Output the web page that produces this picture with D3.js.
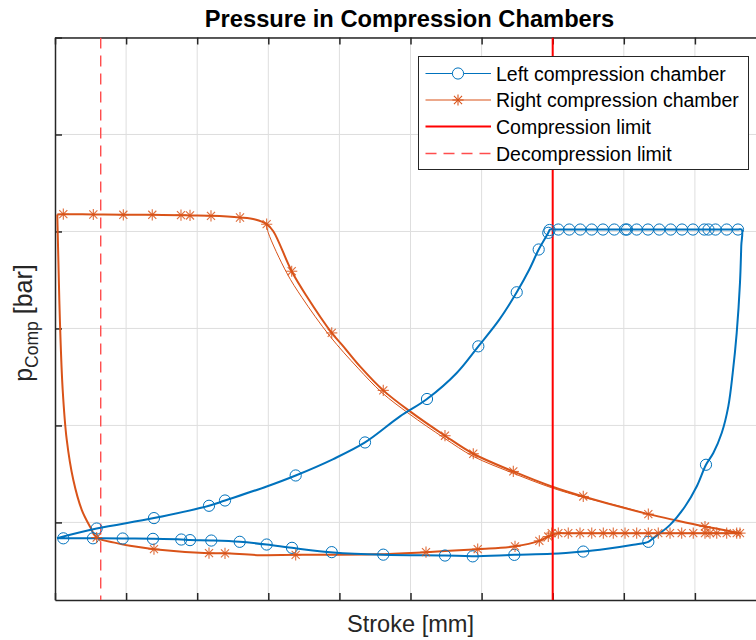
<!DOCTYPE html>
<html>
<head>
<meta charset="utf-8">
<script src="https://cdn.jsdelivr.net/npm/d3@7"></script>
<style>
  html, body { margin: 0; padding: 0; background: #fff; }
  svg { display: block; font-family: "Liberation Sans", Arial, Helvetica, sans-serif; }
</style>
</head>
<body>
<svg id="chart" width="756" height="640"></svg>
<script>
// Axis tick positions (labels are hidden on both axes)
const strokeTicks = [0, 10, 20, 30, 40, 50, 60, 70, 80, 90, 100];   // mm
const pressureTicks = [0, 2, 4, 6, 8, 10];                           // bar

// Valve limits on the stroke axis
const compressionLimit = 70.0;     // mm
const decompressionLimit = 6.43;   // mm

// Left compression chamber: one full stroke cycle [stroke mm, pressure bar]
const leftCycle = [
  [0.28,-0.324],[5.86,-0.126],[13.92,0.089],[21.66,0.343],[23.91,0.452],[29.77,0.741],
  [33.85,0.968],[39.14,1.307],[43.60,1.649],[48.52,2.186],[52.32,2.545],[56.50,3.082],
  [59.54,3.631],[62.49,4.182],[64.94,4.746],[66.71,5.215],[68.03,5.628],[69.38,5.972],
  [69.62,6.040],[70.30,6.040],[80.00,6.040],[90.00,6.040],[96.00,6.040],[96.58,6.040],
  [96.52,5.700],[96.34,4.940],[95.88,3.908],[95.32,3.082],[94.70,2.393],
  [93.77,1.843],[92.59,1.431],[91.56,1.189],[90.25,0.741],[88.61,0.328],[86.50,-0.050],
  [84.15,-0.324],[83.45,-0.400],[81.34,-0.462],[76.65,-0.566],[74.30,-0.601],[69.86,-0.648],
  [64.60,-0.669],[58.75,-0.696],[54.85,-0.683],[46.17,-0.669],[39.14,-0.621],[33.33,-0.524],
  [29.77,-0.456],[25.98,-0.400],[21.98,-0.374],[18.99,-0.365],[17.76,-0.353],[13.78,-0.339],
  [9.52,-0.332],[5.34,-0.328],[1.17,-0.328],[0.28,-0.324]
];
// Samples of the left chamber shown with markers
const leftSamples = [
  [1.17,-0.328],[5.34,-0.328],[5.86,-0.126],[9.52,-0.332],[13.78,-0.339],[13.92,0.089],
  [17.76,-0.353],[18.99,-0.365],[21.66,0.343],[21.98,-0.374],[23.91,0.452],[25.98,-0.400],
  [29.77,-0.456],[33.33,-0.524],[33.85,0.968],[38.92,-0.613],[43.60,1.649],[46.17,-0.665],
  [52.32,2.545],[54.85,-0.683],[58.75,-0.700],[59.54,3.631],[64.60,-0.669],[64.94,4.746],
  [68.03,5.628],[69.38,5.972],[69.55,6.030],[74.30,-0.601],[83.45,-0.400],[91.56,1.189],
  [70.79,6.040],[72.33,6.040],[73.88,6.040],[75.49,6.040],[77.07,6.040],[78.66,6.040],
  [80.21,6.040],[80.45,6.040],[81.81,6.040],[83.40,6.040],[84.99,6.040],[86.60,6.040],
  [88.19,6.040],[89.73,6.040],[91.32,6.040],[91.91,6.040],[92.90,6.040],[94.47,6.040],
  [96.06,6.040]
];

// Right compression chamber: one full stroke cycle [stroke mm, pressure bar]
const rightCycle = [
  [0.32,6.350],[1.17,6.356],[5.39,6.350],[9.61,6.344],[13.68,6.344],[17.72,6.336],
  [18.99,6.330],[21.94,6.323],[26.02,6.288],[28.16,6.247],[29.77,6.150],[30.70,6.005],
  [33.29,5.180],[35.40,4.664],[38.92,3.908],[40.55,3.631],[42.90,3.218],[46.17,2.723],
  [49.93,2.289],[54.85,1.788],[58.83,1.416],[64.46,1.051],[69.86,0.741],[74.30,0.535],
  [83.45,0.171],[87.44,0.039],[91.42,-0.085],[96.34,-0.221],[95.60,-0.221],[85.00,-0.221],
  [75.00,-0.221],[71.40,-0.221],[70.79,-0.221],[69.38,-0.291],
  [68.12,-0.380],[64.70,-0.493],[59.45,-0.551],[52.18,-0.613],[45.15,-0.659],[33.85,-0.669],
  [28.83,-0.675],[23.91,-0.638],[21.66,-0.634],[13.92,-0.551],[10.55,-0.483],[8.68,-0.427],
  [5.86,-0.312],[4.92,-0.085],[3.76,0.260],[2.57,0.879],[1.65,1.705],[1.08,2.737],
  [0.70,4.114],[0.46,5.489],[0.32,6.350]
];
// Expansion of the preceding cycle, slightly below the current one
const rightPrevExpansion = [
  [29.77,6.129],[30.00,5.972],[32.59,5.147],[34.74,4.637],[38.68,3.838],[42.62,3.181],
  [45.99,2.676],[49.79,2.242],[54.78,1.736],[58.79,1.365],[64.28,1.024],[69.86,0.714],
  [74.30,0.518],[79.47,0.332],[83.45,0.167]
];
// Samples of the right chamber shown with markers
const rightSamples = [
  [1.17,6.356],[5.39,6.350],[9.61,6.344],[13.68,6.344],[17.72,6.336],[18.99,6.330],
  [21.94,6.323],[26.02,6.288],[29.77,6.150],
  [33.29,5.180],[38.92,3.908],[46.17,2.723],[54.85,1.788],[58.83,1.416],[64.46,1.051],
  [74.30,0.535],[83.45,0.171],[91.42,-0.085],[96.34,-0.221],
  [69.86,-0.221],[70.79,-0.221],[72.19,-0.221],[73.84,-0.221],[75.49,-0.221],[77.12,-0.221],
  [78.52,-0.221],[80.17,-0.221],[81.81,-0.221],[83.45,-0.221],[84.85,-0.221],[86.50,-0.221],
  [88.14,-0.221],[89.77,-0.221],[91.42,-0.221],[92.12,-0.221],[93.07,-0.221],[94.47,-0.221],
  [95.88,-0.221],
  [69.38,-0.291],[68.12,-0.380],[64.70,-0.493],[59.45,-0.551],[52.18,-0.613],[33.85,-0.669],
  [23.91,-0.638],[21.66,-0.634],[13.92,-0.551],[5.86,-0.312]
];

const BLUE = "#0072BD", ORANGE = "#D95319", RED = "#FF0000", PINK = "#FF4D4D", AXIS = "#262626";

const legendItems = [
  { label: "Left compression chamber",  color: BLUE,   width: 1.1, dash: null,   marker: "circle" },
  { label: "Right compression chamber", color: ORANGE, width: 1.1, dash: null,   marker: "asterisk" },
  { label: "Compression limit",         color: RED,    width: 2,   dash: null,   marker: null },
  { label: "Decompression limit",       color: PINK,   width: 1.4, dash: "11,7", marker: null }
];

const svg = d3.select("#chart");
const plot = { left: 55, right: 766, top: 37.5, bottom: 600 };

const x = d3.scaleLinear().domain([0, 100]).range([plot.left, plot.right]);
const y = d3.scaleLinear().domain([-1.6, 10]).range([plot.bottom, plot.top]);

// Grid
const grid = svg.append("g").attr("stroke", "#dedede").attr("stroke-width", 1);
grid.selectAll(".gx").data(strokeTicks.slice(1)).join("line")
  .attr("x1", d => x(d)).attr("x2", d => x(d))
  .attr("y1", plot.top).attr("y2", plot.bottom);
grid.selectAll(".gy").data(pressureTicks).join("line")
  .attr("y1", d => y(d)).attr("y2", d => y(d))
  .attr("x1", plot.left).attr("x2", plot.right);

// Axes with inward ticks and no labels
const axisStyle = g => {
  g.selectAll("text").remove();
  g.select(".domain").attr("stroke", AXIS).attr("stroke-width", 1.5);
  g.selectAll(".tick line").attr("stroke", AXIS).attr("stroke-width", 1.5);
};
svg.append("g").attr("transform", `translate(0,${plot.bottom})`)
  .call(d3.axisBottom(x).tickValues(strokeTicks).tickSizeInner(-7).tickSizeOuter(0).tickFormat(""))
  .call(axisStyle);
svg.append("g").attr("transform", `translate(0,${plot.top})`)
  .call(d3.axisTop(x).tickValues(strokeTicks).tickSizeInner(-7).tickSizeOuter(0).tickFormat(""))
  .call(axisStyle);
svg.append("g").attr("transform", `translate(${plot.left},0)`)
  .call(d3.axisLeft(y).tickValues(pressureTicks).tickSizeInner(-7).tickSizeOuter(0).tickFormat(""))
  .call(axisStyle);

svg.append("defs").append("clipPath").attr("id", "plotClip")
  .append("rect").attr("x", plot.left).attr("y", plot.top)
  .attr("width", plot.right - plot.left).attr("height", plot.bottom - plot.top);

const layer = svg.append("g").attr("clip-path", "url(#plotClip)");

const line = d3.line().x(d => x(d[0])).y(d => y(d[1])).curve(d3.curveCatmullRom.alpha(0.5));

// Decompression limit
layer.append("line").attr("x1", x(decompressionLimit)).attr("x2", x(decompressionLimit))
  .attr("y1", plot.top).attr("y2", plot.bottom)
  .attr("stroke", PINK).attr("stroke-width", 1.4).attr("stroke-dasharray", "11,7");

// Chamber curves
layer.append("path").datum(rightPrevExpansion).attr("d", line)
  .attr("fill", "none").attr("stroke", ORANGE).attr("stroke-width", 1);
layer.append("path").datum(rightCycle).attr("d", line)
  .attr("fill", "none").attr("stroke", ORANGE).attr("stroke-width", 2);
layer.append("path").datum(leftCycle).attr("d", line)
  .attr("fill", "none").attr("stroke", BLUE).attr("stroke-width", 2);

// Compression limit
layer.append("line").attr("x1", x(compressionLimit)).attr("x2", x(compressionLimit))
  .attr("y1", plot.top).attr("y2", plot.bottom)
  .attr("stroke", RED).attr("stroke-width", 2);

// Markers
const asterisk = (g, r) => {
  g.append("line").attr("x1", -r).attr("x2", r).attr("y1", 0).attr("y2", 0);
  g.append("line").attr("x1", 0).attr("x2", 0).attr("y1", -r).attr("y2", r);
  const k = r * 0.72;
  g.append("line").attr("x1", -k).attr("x2", k).attr("y1", -k).attr("y2", k);
  g.append("line").attr("x1", -k).attr("x2", k).attr("y1", k).attr("y2", -k);
};
layer.append("g").selectAll("circle").data(leftSamples).join("circle")
  .attr("cx", d => x(d[0])).attr("cy", d => y(d[1])).attr("r", 5.6)
  .attr("fill", "none").attr("stroke", BLUE).attr("stroke-width", 1);
layer.append("g").attr("stroke", ORANGE).attr("stroke-width", 1.1).attr("stroke-opacity", 0.85)
  .selectAll("g").data(rightSamples).join("g")
  .attr("transform", d => `translate(${x(d[0])},${y(d[1])})`)
  .each(function() { asterisk(d3.select(this), 5.6); });

// Title and axis labels
svg.append("text").attr("x", 409.5).attr("y", 27).attr("text-anchor", "middle")
  .attr("font-weight", "bold").attr("font-size", 23.7).attr("fill", "#000")
  .text("Pressure in Compression Chambers");
svg.append("text").attr("x", 410.5).attr("y", 632).attr("text-anchor", "middle")
  .attr("font-size", 23.6).attr("fill", AXIS).text("Stroke [mm]");
const yl = svg.append("text").attr("transform", `translate(32,323) rotate(-90)`)
  .attr("text-anchor", "middle").attr("font-size", 25).attr("fill", AXIS);
yl.append("tspan").text("p");
yl.append("tspan").attr("font-size", 17.5).attr("dy", 6).text("Comp");
yl.append("tspan").attr("dy", -6).text(" [bar]");

// Legend
const lg = svg.append("g").attr("transform", "translate(418.5,56.5)");
lg.append("rect").attr("width", 330).attr("height", 113)
  .attr("fill", "#fff").attr("stroke", AXIS).attr("stroke-width", 1);
const rowY = [17, 43.5, 70, 97];
const rows = lg.selectAll("g.row").data(legendItems).join("g").attr("class", "row")
  .attr("transform", (d, i) => `translate(0,${rowY[i]})`);
rows.append("line").attr("x1", 7).attr("x2", 72.5).attr("y1", 0).attr("y2", 0)
  .attr("stroke", d => d.color).attr("stroke-width", d => d.width)
  .attr("stroke-dasharray", d => d.dash);
rows.append("text").attr("x", 77.5).attr("y", 7).attr("font-size", 19.5).attr("fill", "#000")
  .text(d => d.label);
rows.filter(d => d.marker === "circle").append("circle").attr("cx", 39.5).attr("cy", 0).attr("r", 5.6)
  .attr("fill", "#fff").attr("stroke", BLUE).attr("stroke-width", 1);
rows.filter(d => d.marker === "asterisk").append("g").attr("transform", "translate(39.5,0)")
  .attr("stroke", ORANGE).attr("stroke-width", 1.1).each(function() { asterisk(d3.select(this), 5.6); });
</script>
</body>
</html>
